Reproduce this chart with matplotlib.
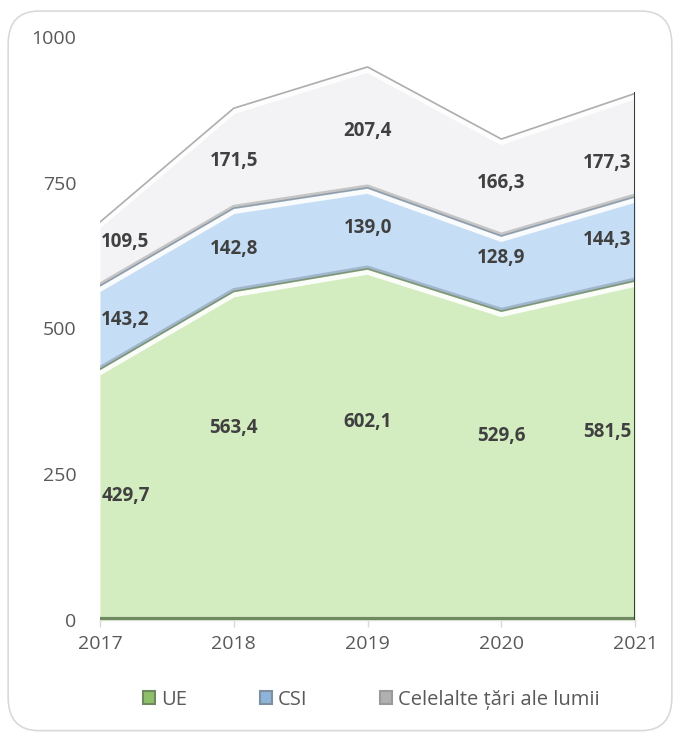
import matplotlib.pyplot as plt
import matplotlib.transforms as mtransforms
from matplotlib.patches import FancyBboxPatch, Patch
import numpy as np

plt.rcParams['font.family'] = ['Open Sans', 'DejaVu Sans']

# Exports by destination (stacked)
years = [2017, 2018, 2019, 2020, 2021]
ue = [429.7, 563.4, 602.1, 529.6, 581.5]
csi = [143.2, 142.8, 139.0, 128.9, 144.3]
other = [109.5, 171.5, 207.4, 166.3, 177.3]
series_names = ['UE', 'CSI', 'Celelalte țări ale lumii']
colors = ['#d3ecc0', '#c6def5', '#f3f2f4']
edge_dark = ['#6f8a60', '#7e8fa0', '#9a9a9a']
yticks = [0, 250, 500, 750, 1000]

# where the value labels sit inside each band (axis units)
label_y = [
    [212, 329, 339, 315, 322],
    [514, 637, 673, 620, 651],
    [649, 788, 839, 750, 784],
]

fig = plt.figure(figsize=(6.8, 7.38), dpi=100)
# rounded frame around the whole chart
frame = FancyBboxPatch((0.012, 0.01), 0.976, 0.975, boxstyle='round,pad=0,rounding_size=0.045',
                       transform=fig.transFigure, facecolor='none', edgecolor='#d9d9d9', lw=1.2, zorder=-1)
fig.patches.append(frame)

ax = fig.add_axes([0.147, 0.16, 0.787, 0.79])
x = np.array(years)
layers = [np.array(ue), np.array(csi), np.array(other)]
base = np.zeros(len(x))
tops = []
for vals, col in zip(layers, colors):
    top = base + vals
    ax.fill_between(x, base, top, color=col, lw=0, zorder=2)
    tops.append((base.copy(), top.copy()))
    base = top

# bevel effect on the layer edges
down = mtransforms.offset_copy(ax.transData, fig=fig, x=0, y=-2.5, units='points')
up = mtransforms.offset_copy(ax.transData, fig=fig, x=0, y=1.2, units='points')
for i, (b, t) in enumerate(tops):
    ax.plot(x, t, color='white', lw=3.5, transform=down, zorder=3, alpha=0.9)
    ax.plot(x, t, color=edge_dark[i], lw=1.2, transform=ax.transData, zorder=4, alpha=0.8)
    if i < 2:
        ax.plot(x, t, color=edge_dark[i + 1], lw=2.5, transform=up, zorder=3, alpha=0.5)
ax.plot([2021, 2021], [0, tops[-1][1][-1]], color='#3a3f38', lw=2.2, zorder=5)
ax.plot(x, np.full(len(x), 2), color='#6f8a60', lw=3, zorder=4)

# data labels
for i in range(len(layers)):
    vals = layers[i]
    for j, yr in enumerate(years):
        ha = 'center'
        xx = yr
        if j == 0:
            ha, xx = 'left', yr + 0.01
        elif j == len(years) - 1:
            ha, xx = 'right', yr - 0.03
        ax.text(xx, label_y[i][j], f'{vals[j]:.1f}'.replace('.', ','), ha=ha, va='center',
                fontsize=13.5, fontweight='bold', color='#404040', zorder=6)

ax.set_xlim(2017, 2021)
ax.set_ylim(0, 1000)
ax.set_xticks(years)
ax.set_yticks(yticks)
ax.tick_params(axis='x', colors='#d9d9d9', labelcolor='#595959', labelsize=14, length=5, width=1, pad=6)
ax.tick_params(axis='y', length=0, labelcolor='#595959', labelsize=14, pad=17)
for s in ['top', 'right', 'left']:
    ax.spines[s].set_visible(False)
ax.spines['bottom'].set_color('#d9d9d9')
ax.spines['bottom'].set_linewidth(1)
ax.spines['bottom'].set_zorder(1)
ax.set_facecolor('none')

handles = [Patch(facecolor=c, edgecolor=e, lw=1.5) for c, e in zip(['#8fbf6a', '#8fb4d9', '#b0b0b0'], edge_dark)]
fig.legend(handles, series_names, loc='center', bbox_to_anchor=(0.546, 0.052), ncol=3, frameon=False,
           fontsize=14.5, handlelength=0.6, handleheight=0.6, handletextpad=0.3, columnspacing=3.6,
           labelcolor='#595959')

fig.savefig('out.png', dpi=100)
